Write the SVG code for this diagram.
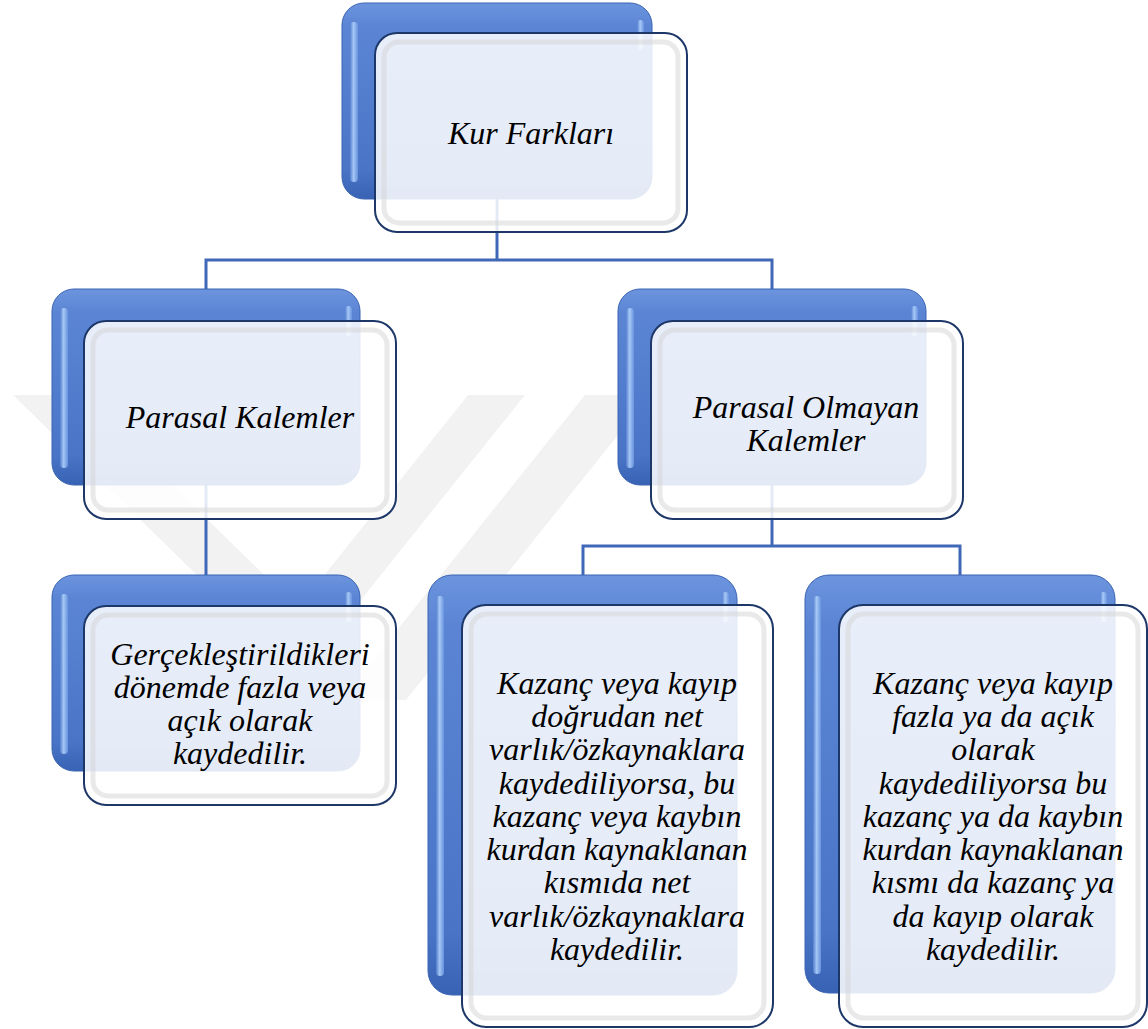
<svg xmlns="http://www.w3.org/2000/svg" width="1148" height="1029" viewBox="0 0 1148 1029">
<defs>
<linearGradient id="backG" x1="0" y1="0" x2="0" y2="1">
<stop offset="0" stop-color="#6c94de"/>
<stop offset="0.12" stop-color="#5b85d4"/>
<stop offset="0.85" stop-color="#4a75c7"/>
<stop offset="1" stop-color="#3862b3"/>
</linearGradient>
<linearGradient id="hlG" x1="0" y1="0" x2="1" y2="0">
<stop offset="0" stop-color="#5580cf"/>
<stop offset="0.45" stop-color="#aed0fb"/>
<stop offset="1" stop-color="#6a95df"/>
</linearGradient>
<style>
.back{fill:url(#backG);stroke:#3a64b2;stroke-width:1}
.hl{fill:url(#hlG);opacity:0.9}
.front{fill:#ffffff;fill-opacity:0.86;stroke:#1c3768;stroke-width:2}
.inner{fill:none;stroke:#d4d4d4;stroke-width:5;stroke-opacity:0.5}
.conn{fill:none;stroke:#4068b8;stroke-width:3}
.wm{fill:#f2f2f2}
</style>
</defs>
<rect x="0" y="0" width="1148" height="1029" fill="#ffffff"/>
<g id="watermark">
<polygon class="wm" points="13,395 80,395 298,608 468,395 525,395 300,676"/>
<polygon class="wm" points="585,395 650,395 406,700 341,700"/>
</g>
<g id="connectors">
<polyline class="conn" points="497,199 497,260"/>
<polyline class="conn" points="206,289 206,260 772,260 772,289"/>
<polyline class="conn" points="206,485 206,575"/>
<polyline class="conn" points="772,485 772,546"/>
<polyline class="conn" points="583,575 583,546 960,546 960,575"/>
</g>
<g id="node-kur-farklari">
<rect class="back" x="342" y="3" width="310" height="196" rx="22"/>
<rect class="hl" x="350" y="22" width="8" height="160" rx="4"/>
<rect class="hl" x="637" y="20" width="7" height="30" rx="3.5"/>
<rect class="front" x="375" y="33" width="312" height="199" rx="22"/>
<rect class="inner" x="384" y="42" width="294" height="181" rx="15"/>
<text font-family="Liberation Serif" font-style="italic" font-size="32" text-anchor="middle" fill="#000" x="531" y="144">Kur Farkları</text>
</g>
<g id="node-parasal">
<rect class="back" x="52" y="289" width="308" height="196" rx="22"/>
<rect class="hl" x="60" y="308" width="8" height="160" rx="4"/>
<rect class="hl" x="345" y="306" width="7" height="30" rx="3.5"/>
<rect class="front" x="84" y="321" width="312" height="198" rx="22"/>
<rect class="inner" x="93" y="330" width="294" height="180" rx="15"/>
<text font-family="Liberation Serif" font-style="italic" font-size="32" text-anchor="middle" fill="#000" x="240" y="428">Parasal Kalemler</text>
</g>
<g id="node-parasal-olmayan">
<rect class="back" x="618" y="289" width="308" height="196" rx="22"/>
<rect class="hl" x="626" y="308" width="8" height="160" rx="4"/>
<rect class="hl" x="911" y="306" width="7" height="30" rx="3.5"/>
<rect class="front" x="651" y="321" width="312" height="198" rx="22"/>
<rect class="inner" x="660" y="330" width="294" height="180" rx="15"/>
<g font-family="Liberation Serif" font-style="italic" font-size="32" text-anchor="middle" fill="#000">
<text x="806" y="418">Parasal Olmayan</text>
<text x="806" y="451">Kalemler</text>
</g>
</g>
<g id="node-gerceklestirildikleri">
<rect class="back" x="52" y="575" width="308" height="196" rx="22"/>
<rect class="hl" x="60" y="594" width="8" height="160" rx="4"/>
<rect class="hl" x="345" y="592" width="7" height="30" rx="3.5"/>
<rect class="front" x="84" y="606" width="312" height="199" rx="22"/>
<rect class="inner" x="93" y="615" width="294" height="181" rx="15"/>
<g font-family="Liberation Serif" font-style="italic" font-size="32" text-anchor="middle" fill="#000">
<text x="240" y="665">Gerçekleştirildikleri</text>
<text x="240" y="698">dönemde fazla veya</text>
<text x="240" y="731">açık olarak</text>
<text x="240" y="764">kaydedilir.</text>
</g>
</g>
<g id="node-dogrudan">
<rect class="back" x="428" y="575" width="309" height="420" rx="24"/>
<rect class="hl" x="436" y="596" width="8" height="380" rx="4"/>
<rect class="hl" x="722" y="592" width="7" height="30" rx="3.5"/>
<rect class="front" x="462" y="605" width="311" height="422" rx="24"/>
<rect class="inner" x="471" y="614" width="293" height="404" rx="16"/>
<g font-family="Liberation Serif" font-style="italic" font-size="32" text-anchor="middle" fill="#000">
<text x="617" y="694">Kazanç veya kayıp</text>
<text x="617" y="727">doğrudan net</text>
<text x="617" y="760">varlık/özkaynaklara</text>
<text x="617" y="794">kaydediliyorsa, bu</text>
<text x="617" y="827">kazanç veya kaybın</text>
<text x="617" y="860">kurdan kaynaklanan</text>
<text x="617" y="893">kısmıda net</text>
<text x="617" y="927">varlık/özkaynaklara</text>
<text x="617" y="960">kaydedilir.</text>
</g>
</g>
<g id="node-fazla-acik">
<rect class="back" x="805" y="575" width="310" height="418" rx="24"/>
<rect class="hl" x="813" y="596" width="8" height="378" rx="4"/>
<rect class="hl" x="1100" y="592" width="7" height="30" rx="3.5"/>
<rect class="front" x="839" y="605" width="308" height="422" rx="24"/>
<rect class="inner" x="848" y="614" width="290" height="404" rx="16"/>
<g font-family="Liberation Serif" font-style="italic" font-size="32" text-anchor="middle" fill="#000">
<text x="993" y="694">Kazanç veya kayıp</text>
<text x="993" y="727">fazla ya da açık</text>
<text x="993" y="760">olarak</text>
<text x="993" y="794">kaydediliyorsa bu</text>
<text x="993" y="827">kazanç ya da kaybın</text>
<text x="993" y="860">kurdan kaynaklanan</text>
<text x="993" y="893">kısmı da kazanç ya</text>
<text x="993" y="927">da kayıp olarak</text>
<text x="993" y="960">kaydedilir.</text>
</g>
</g>
</svg>
